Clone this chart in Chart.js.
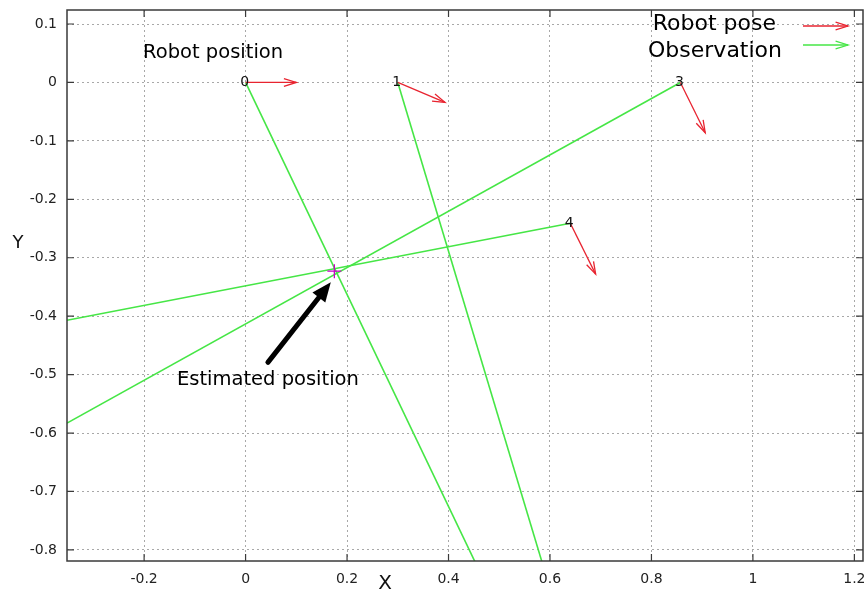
<!DOCTYPE html>
<html>
<head>
<meta charset="utf-8">
<script src="https://cdn.jsdelivr.net/npm/chart.js@4.4.1/dist/chart.umd.min.js"></script>
<style>
  html, body { margin: 0; padding: 0; background: #fff; overflow: hidden; }
  canvas { display: block; }
</style>
</head>
<body>
<canvas id="poseChart" width="866" height="595"></canvas>
<script>
// robot poses (label, position) and heading arrow tips
const poseLabels = ['0', '1', '3', '4'];
const poseX = [0, 0.3, 0.857, 0.64];
const poseY = [0, 0, 0, -0.241];
const headingX = [0.1, 0.393, 0.906, 0.69];
const headingY = [0, -0.034, -0.086, -0.328];

// observation rays, from each pose to where they leave the plot
const obsEndX = [0.452, 0.584, -0.352, -0.352];
const obsEndY = [-0.82, -0.82, -0.583, -0.407];

// estimated position
const estimateX = [0.175];
const estimateY = [-0.323];

// annotations (data coordinates)
const noteTexts = ['Robot position', 'Estimated position'];
const noteX = [-0.064, 0.044];
const noteY = [0.05, -0.509];
const pointerFrom = [0.044, -0.479];
const pointerTo = [0.168, -0.342];

const xTicks = [-0.2, 0, 0.2, 0.4, 0.6, 0.8, 1, 1.2];
const yTicks = [0.1, 0, -0.1, -0.2, -0.3, -0.4, -0.5, -0.6, -0.7, -0.8];

const RED = 'rgb(232,36,48)';
const GREEN = 'rgb(70,230,70)';
const FONT = '"DejaVu Sans", sans-serif';

const datasets = [];
poseX.forEach((px, i) => {
    datasets.push({
        label: 'obs' + i,
        data: [{x: px, y: poseY[i]}, {x: obsEndX[i], y: obsEndY[i]}],
        borderColor: GREEN,
        borderWidth: 1.6,
        pointRadius: 0,
        showLine: true,
        order: 3
    });
});
poseX.forEach((px, i) => {
    datasets.push({
        label: 'pose' + i,
        data: [{x: px, y: poseY[i]}, {x: headingX[i], y: headingY[i]}],
        borderColor: RED,
        borderWidth: 1.3,
        pointRadius: 0,
        showLine: true,
        arrowHead: true,
        poseName: poseLabels[i],
        order: 2
    });
});
datasets.push({
    label: 'estimate',
    data: estimateX.map((v, i) => ({x: v, y: estimateY[i]})),
    pointStyle: 'cross',
    pointRadius: 7,
    borderColor: 'rgb(200,0,200)',
    borderWidth: 1.3,
    showLine: false,
    order: 1
});

function drawHead(ctx, x0, y0, x1, y1, size, spread) {
    const ang = Math.atan2(y1 - y0, x1 - x0);
    ctx.beginPath();
    ctx.moveTo(x1 - size * Math.cos(ang - spread), y1 - size * Math.sin(ang - spread));
    ctx.lineTo(x1, y1);
    ctx.lineTo(x1 - size * Math.cos(ang + spread), y1 - size * Math.sin(ang + spread));
    ctx.stroke();
}

const extrasPlugin = {
    id: 'extras',
    afterDatasetsDraw(chart) {
        const {ctx, chartArea: a, scales: {x, y}} = chart;
        ctx.save();

        // arrow heads + pose labels
        chart.data.datasets.forEach((ds, i) => {
            if (!ds.arrowHead) return;
            const pts = chart.getDatasetMeta(i).data;
            ctx.strokeStyle = ds.borderColor;
            ctx.lineWidth = 1.3;
            drawHead(ctx, pts[0].x, pts[0].y, pts[1].x, pts[1].y, 13, 0.3);
            ctx.fillStyle = '#111';
            ctx.font = '14px ' + FONT;
            ctx.textAlign = 'center';
            ctx.textBaseline = 'middle';
            ctx.fillText(ds.poseName, pts[0].x - 1, pts[0].y);
        });

        // black pointer to the estimate
        const fx = x.getPixelForValue(pointerFrom[0]), fy = y.getPixelForValue(pointerFrom[1]);
        const tx = x.getPixelForValue(pointerTo[0]), ty = y.getPixelForValue(pointerTo[1]);
        const ang = Math.atan2(ty - fy, tx - fx);
        ctx.strokeStyle = '#000';
        ctx.fillStyle = '#000';
        ctx.lineWidth = 5;
        ctx.lineCap = 'round';
        ctx.beginPath();
        ctx.moveTo(fx, fy);
        ctx.lineTo(tx - 12 * Math.cos(ang), ty - 12 * Math.sin(ang));
        ctx.stroke();
        ctx.beginPath();
        ctx.moveTo(tx, ty);
        ctx.lineTo(tx - 21 * Math.cos(ang - 0.4), ty - 21 * Math.sin(ang - 0.4));
        ctx.lineTo(tx - 21 * Math.cos(ang + 0.4), ty - 21 * Math.sin(ang + 0.4));
        ctx.closePath();
        ctx.fill();

        // annotation texts
        ctx.font = '19.5px ' + FONT;
        ctx.textAlign = 'center';
        ctx.textBaseline = 'middle';
        noteTexts.forEach((t, i) => {
            ctx.fillText(t, x.getPixelForValue(noteX[i]), y.getPixelForValue(noteY[i]));
        });

        // key, top right
        ctx.font = '22px ' + FONT;
        ctx.textAlign = 'right';
        ctx.fillText('Robot pose', 776, 24);
        ctx.fillText('Observation', 782, 51);
        ctx.lineWidth = 1.3;
        ctx.lineCap = 'butt';
        ctx.strokeStyle = RED;
        ctx.beginPath(); ctx.moveTo(803, 26); ctx.lineTo(848, 26); ctx.stroke();
        drawHead(ctx, 803, 26, 848, 26, 13, 0.3);
        ctx.strokeStyle = GREEN;
        ctx.beginPath(); ctx.moveTo(803, 45); ctx.lineTo(848, 45); ctx.stroke();
        drawHead(ctx, 803, 45, 848, 45, 13, 0.3);

        // frame with inward tick marks
        ctx.strokeStyle = '#3a3a3a';
        ctx.lineWidth = 1.5;
        ctx.strokeRect(a.left, a.top, a.right - a.left, a.bottom - a.top);
        ctx.lineWidth = 1.2;
        ctx.beginPath();
        x.ticks.forEach(t => {
            const px = x.getPixelForValue(t.value);
            ctx.moveTo(px, a.bottom); ctx.lineTo(px, a.bottom - 7);
            ctx.moveTo(px, a.top); ctx.lineTo(px, a.top + 7);
        });
        y.ticks.forEach(t => {
            const py = y.getPixelForValue(t.value);
            ctx.moveTo(a.left, py); ctx.lineTo(a.left + 7, py);
            ctx.moveTo(a.right, py); ctx.lineTo(a.right - 7, py);
        });
        ctx.stroke();

        // axis titles
        ctx.fillStyle = '#111';
        ctx.font = '18px ' + FONT;
        ctx.textAlign = 'center';
        ctx.fillText('Y', 18, 243);
        ctx.font = '20px ' + FONT;
        ctx.fillText('X', 385, 584);
        ctx.restore();
    }
};

const fmt = v => String(Math.round(v * 10) / 10);

new Chart(document.getElementById('poseChart'), {
    type: 'scatter',
    data: {datasets: datasets},
    options: {
        responsive: false,
        animation: false,
        layout: {autoPadding: false, padding: {top: 10, right: 3, left: 0, bottom: 0}},
        plugins: {legend: {display: false}, tooltip: {enabled: false}},
        scales: {
            x: {
                type: 'linear',
                min: -0.352,
                max: 1.217,
                afterBuildTicks: s => { s.ticks = xTicks.map(v => ({value: v})); },
                afterFit: s => { s.height = 34; s.paddingLeft = 0; s.paddingRight = 0; },
                ticks: {
                    callback: fmt,
                    padding: 10,
                    color: '#222',
                    font: {family: FONT, size: 14},
                    maxRotation: 0
                },
                grid: {color: '#a8a8a8', drawTicks: false, lineWidth: 1},
                border: {display: false, dash: [2, 3]}
            },
            y: {
                type: 'linear',
                min: -0.819,
                max: 0.124,
                afterBuildTicks: s => { s.ticks = yTicks.map(v => ({value: v})); },
                afterFit: s => { s.width = 67; s.paddingTop = 0; s.paddingBottom = 0; },
                ticks: {
                    callback: fmt,
                    padding: 10,
                    color: '#222',
                    font: {family: FONT, size: 14}
                },
                grid: {color: '#a8a8a8', drawTicks: false, lineWidth: 1},
                border: {display: false, dash: [2, 3]}
            }
        }
    },
    plugins: [extrasPlugin]
});
</script>
</body>
</html>
